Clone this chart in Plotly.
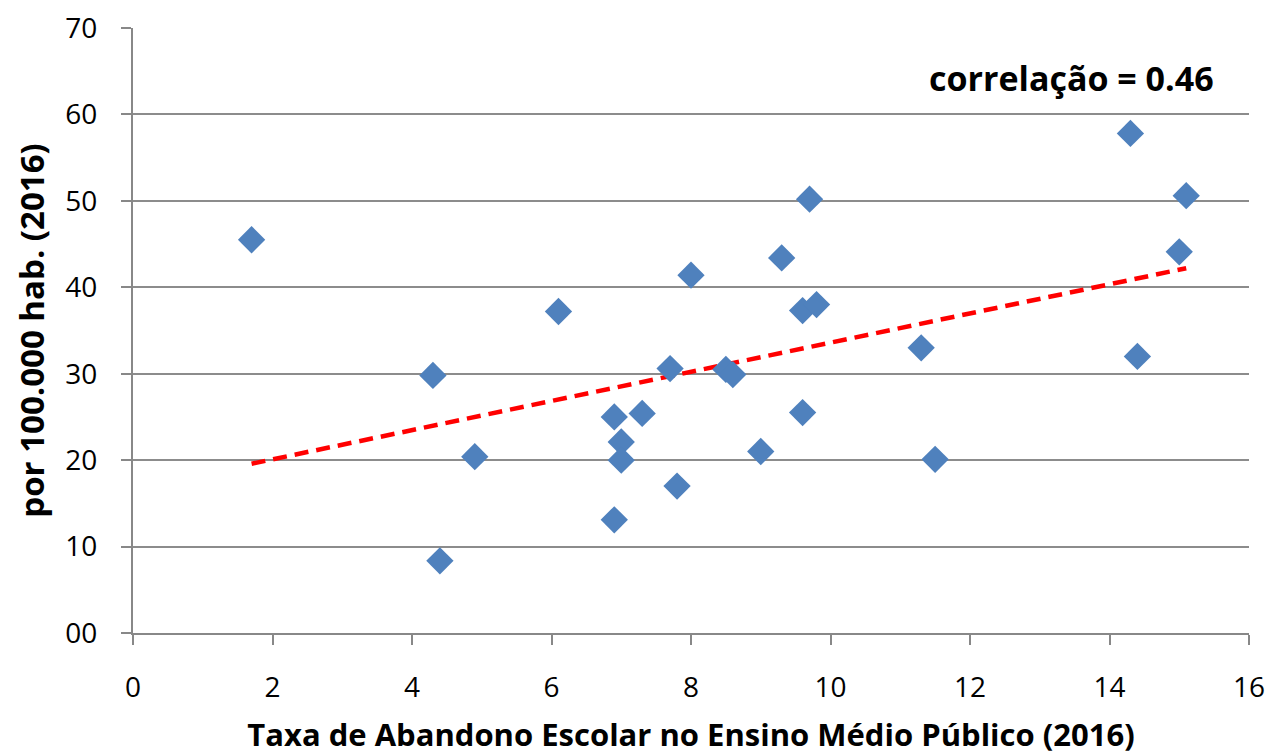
import numpy as np
import plotly.graph_objects as go

# Data
abandono = [1.7, 4.3, 4.4, 4.9, 6.1, 6.9, 6.9, 7.0, 7.0, 7.3, 7.7, 7.8, 8.0, 8.5,
            8.6, 9.0, 9.3, 9.6, 9.8, 9.6, 9.7, 11.3, 11.5, 14.3, 14.4, 15.0, 15.1]
taxa = [45.5, 29.8, 8.35, 20.4, 37.2, 25.0, 13.1, 22.1, 20.0, 25.4, 30.6, 17.0, 41.4, 30.5,
        29.9, 21.0, 43.4, 37.3, 38.0, 25.5, 50.2, 33.0, 20.1, 57.8, 32.0, 44.1, 50.6]

y_tickvals = [0, 10, 20, 30, 40, 50, 60, 70]
y_ticktext = ["00", "10", "20", "30", "40", "50", "60", "70"]
x_tickvals = [0, 2, 4, 6, 8, 10, 12, 14, 16]

x_title = "Taxa de Abandono Escolar no Ensino Médio Público (2016)"
y_title = "por 100.000 hab. (2016)"
corr_text = "correlação = 0.46"

# Linear trendline (OLS) computed from the data
slope, intercept = np.polyfit(abandono, taxa, 1)
x_fit = [min(abandono), max(abandono)]
y_fit = [slope * v + intercept for v in x_fit]

fig = go.Figure()
fig.add_trace(go.Scatter(
    x=x_fit, y=y_fit, mode="lines",
    line=dict(color="#FF0000", width=4.5, dash="14px,8px"),
    hoverinfo="skip", showlegend=False,
))
fig.add_trace(go.Scatter(
    x=abandono, y=taxa, mode="markers",
    marker=dict(symbol="diamond", size=21, color="#4F81BD", line=dict(width=0)),
    showlegend=False,
))

font_family = "Open Sans, Liberation Sans, sans-serif"

fig.update_layout(
    width=1270, height=755,
    margin=dict(l=133, r=21, t=28, b=122, autoexpand=False),
    paper_bgcolor="white", plot_bgcolor="white",
    font=dict(family=font_family, color="#000000"),
    showlegend=False,
    xaxis=dict(
        range=[0, 16], tickvals=x_tickvals,
        showgrid=False, zeroline=False,
        showline=True, linecolor="#888888", linewidth=2,
        ticks="outside", ticklen=10, tickcolor="#888888", tickwidth=2,
        ticklabelstandoff=18,
        tickfont=dict(size=28, family=font_family),
        title=dict(text="<b>" + x_title + "</b>", font=dict(size=31, family=font_family), standoff=26),
    ),
    yaxis=dict(
        range=[0, 70], tickvals=y_tickvals, ticktext=y_ticktext,
        showgrid=True, gridcolor="#8C8C8C", gridwidth=2,
        zeroline=False,
        showline=True, linecolor="#888888", linewidth=2,
        ticks="outside", ticklen=10, tickcolor="#888888", tickwidth=2,
        ticklabelstandoff=18,
        tickfont=dict(size=28, family=font_family),
        title=dict(text="<b>" + y_title + "</b>", font=dict(size=33, family=font_family), standoff=11),
    ),
    annotations=[dict(
        x=15.52, y=64.2, xref="x", yref="y", xanchor="right", yanchor="middle",
        text="<b>" + corr_text + "</b>", showarrow=False,
        font=dict(size=34, family=font_family, color="#000000"),
    )],
)

fig.write_html(
    "out.html",
    config={"displayModeBar": False},
    post_script="document.body.style.margin='0';document.body.style.padding='0';",
)
